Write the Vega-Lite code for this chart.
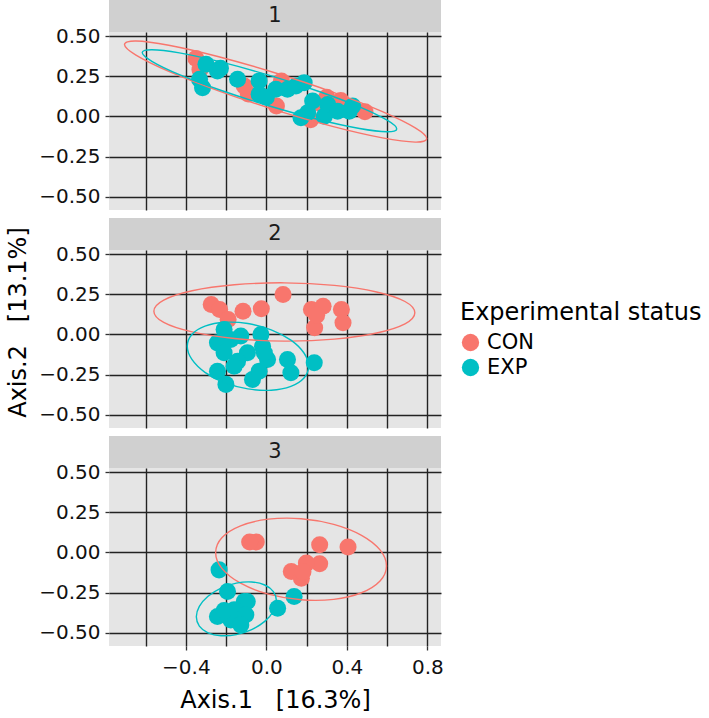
{
  "$schema": "https://vega.github.io/schema/vega-lite/v6.json",
  "background": "white",
  "autosize": {"type": "pad"},
  "padding": {"left": 6, "top": 0, "right": 0, "bottom": 0},
  "config": {
    "font": "DejaVu Sans",
    "view": {"stroke": null},
    "axis": {
      "labelFont": "DejaVu Sans", "labelFontSize": 20, "labelColor": "#111111",
      "titleFont": "DejaVu Sans", "titleFontSize": 24, "titleFontWeight": "normal", "titleColor": "#000000",
      "gridColor": "#222222", "gridWidth": 1.4, "gridOpacity": 1,
      "tickColor": "#333333", "tickSize": 4, "tickWidth": 1.3,
      "domain": false, "labelOverlap": false, "labelFlush": false, "labelPadding": 5
    },
    "legend": {
      "orient": "none", "legendX": 351, "legendY": 301,
      "titleFont": "DejaVu Sans", "titleFontSize": 24, "titleFontWeight": "normal", "titleColor": "#000000", "titleLimit": 400,
      "labelFont": "DejaVu Sans", "labelFontSize": 21, "labelColor": "#000000",
      "symbolType": "circle", "symbolSize": 300, "symbolStrokeWidth": 0,
      "titlePadding": 7, "rowPadding": 3, "labelOffset": 6, "padding": 0
    }
  },
  "datasets": {
    "strips": [{"panel": "1"}, {"panel": "2"}, {"panel": "3"}],
    "pts": [
      {"panel": "1", "status": "CON", "x": -0.35, "y": 0.36},
      {"panel": "1", "status": "CON", "x": -0.33, "y": 0.29},
      {"panel": "1", "status": "CON", "x": -0.11, "y": 0.19},
      {"panel": "1", "status": "CON", "x": -0.09, "y": 0.14},
      {"panel": "1", "status": "CON", "x": 0.075, "y": 0.22},
      {"panel": "1", "status": "CON", "x": 0.05, "y": 0.065},
      {"panel": "1", "status": "CON", "x": 0.30, "y": 0.12},
      {"panel": "1", "status": "CON", "x": 0.37, "y": 0.10},
      {"panel": "1", "status": "CON", "x": 0.49, "y": 0.03},
      {"panel": "1", "status": "CON", "x": 0.22, "y": -0.02},
      {"panel": "1", "status": "CON", "x": 0.27, "y": 0.08},
      {"panel": "1", "status": "EXP", "x": -0.30, "y": 0.325},
      {"panel": "1", "status": "EXP", "x": -0.332, "y": 0.231},
      {"panel": "1", "status": "EXP", "x": -0.317, "y": 0.179},
      {"panel": "1", "status": "EXP", "x": -0.243, "y": 0.283},
      {"panel": "1", "status": "EXP", "x": -0.228, "y": 0.30},
      {"panel": "1", "status": "EXP", "x": -0.143, "y": 0.231},
      {"panel": "1", "status": "EXP", "x": -0.036, "y": 0.221},
      {"panel": "1", "status": "EXP", "x": -0.036, "y": 0.138},
      {"panel": "1", "status": "EXP", "x": 0.0, "y": 0.12},
      {"panel": "1", "status": "EXP", "x": 0.047, "y": 0.169},
      {"panel": "1", "status": "EXP", "x": 0.105, "y": 0.169},
      {"panel": "1", "status": "EXP", "x": 0.147, "y": 0.19},
      {"panel": "1", "status": "EXP", "x": 0.188, "y": 0.21},
      {"panel": "1", "status": "EXP", "x": 0.205, "y": 0.023},
      {"panel": "1", "status": "EXP", "x": 0.23, "y": 0.096},
      {"panel": "1", "status": "EXP", "x": 0.288, "y": 0.002},
      {"panel": "1", "status": "EXP", "x": 0.305, "y": 0.075},
      {"panel": "1", "status": "EXP", "x": 0.354, "y": 0.033},
      {"panel": "1", "status": "EXP", "x": 0.412, "y": 0.033},
      {"panel": "1", "status": "EXP", "x": 0.429, "y": 0.065},
      {"panel": "1", "status": "EXP", "x": 0.172, "y": -0.008},
      {"panel": "2", "status": "CON", "x": -0.274, "y": 0.186},
      {"panel": "2", "status": "CON", "x": -0.232, "y": 0.155},
      {"panel": "2", "status": "CON", "x": -0.19, "y": 0.093},
      {"panel": "2", "status": "CON", "x": -0.116, "y": 0.145},
      {"panel": "2", "status": "CON", "x": -0.025, "y": 0.16},
      {"panel": "2", "status": "CON", "x": 0.083, "y": 0.248},
      {"panel": "2", "status": "CON", "x": 0.224, "y": 0.155},
      {"panel": "2", "status": "CON", "x": 0.282, "y": 0.176},
      {"panel": "2", "status": "CON", "x": 0.373, "y": 0.155},
      {"panel": "2", "status": "CON", "x": 0.381, "y": 0.073},
      {"panel": "2", "status": "CON", "x": 0.24, "y": 0.042},
      {"panel": "2", "status": "CON", "x": 0.25, "y": 0.12},
      {"panel": "2", "status": "EXP", "x": -0.21, "y": 0.031},
      {"panel": "2", "status": "EXP", "x": -0.243, "y": -0.052},
      {"panel": "2", "status": "EXP", "x": -0.177, "y": -0.031},
      {"panel": "2", "status": "EXP", "x": -0.127, "y": -0.01},
      {"panel": "2", "status": "EXP", "x": -0.027, "y": 0.0},
      {"panel": "2", "status": "EXP", "x": -0.019, "y": -0.073},
      {"panel": "2", "status": "EXP", "x": -0.21, "y": -0.114},
      {"panel": "2", "status": "EXP", "x": -0.094, "y": -0.114},
      {"panel": "2", "status": "EXP", "x": -0.143, "y": -0.166},
      {"panel": "2", "status": "EXP", "x": -0.243, "y": -0.228},
      {"panel": "2", "status": "EXP", "x": -0.201, "y": -0.31},
      {"panel": "2", "status": "EXP", "x": -0.069, "y": -0.28},
      {"panel": "2", "status": "EXP", "x": -0.036, "y": -0.228},
      {"panel": "2", "status": "EXP", "x": 0.006, "y": -0.155},
      {"panel": "2", "status": "EXP", "x": -0.01, "y": -0.114},
      {"panel": "2", "status": "EXP", "x": 0.105, "y": -0.155},
      {"panel": "2", "status": "EXP", "x": 0.122, "y": -0.238},
      {"panel": "2", "status": "EXP", "x": 0.238, "y": -0.176},
      {"panel": "2", "status": "EXP", "x": -0.16, "y": -0.197},
      {"panel": "3", "status": "CON", "x": -0.05, "y": 0.065},
      {"panel": "3", "status": "CON", "x": -0.083, "y": 0.065},
      {"panel": "3", "status": "CON", "x": 0.265, "y": 0.048},
      {"panel": "3", "status": "CON", "x": 0.406, "y": 0.034},
      {"panel": "3", "status": "CON", "x": 0.265, "y": -0.07},
      {"panel": "3", "status": "CON", "x": 0.199, "y": -0.066},
      {"panel": "3", "status": "CON", "x": 0.124, "y": -0.118},
      {"panel": "3", "status": "CON", "x": 0.174, "y": -0.16},
      {"panel": "3", "status": "CON", "x": 0.182, "y": -0.12},
      {"panel": "3", "status": "EXP", "x": -0.235, "y": -0.108},
      {"panel": "3", "status": "EXP", "x": -0.193, "y": -0.243},
      {"panel": "3", "status": "EXP", "x": -0.11, "y": -0.305},
      {"panel": "3", "status": "EXP", "x": -0.095, "y": -0.305},
      {"panel": "3", "status": "EXP", "x": -0.243, "y": -0.398},
      {"panel": "3", "status": "EXP", "x": -0.177, "y": -0.419},
      {"panel": "3", "status": "EXP", "x": -0.127, "y": -0.419},
      {"panel": "3", "status": "EXP", "x": -0.16, "y": -0.356},
      {"panel": "3", "status": "EXP", "x": -0.102, "y": -0.387},
      {"panel": "3", "status": "EXP", "x": -0.127, "y": -0.45},
      {"panel": "3", "status": "EXP", "x": 0.056, "y": -0.346},
      {"panel": "3", "status": "EXP", "x": 0.138, "y": -0.274},
      {"panel": "3", "status": "EXP", "x": -0.21, "y": -0.36}
    ],
    "ell": [
      {"panel": "1", "status": "CON", "i": 0, "x": 0.797, "y": -0.137},
      {"panel": "1", "status": "CON", "i": 1, "x": 0.740, "y": -0.071},
      {"panel": "1", "status": "CON", "i": 2, "x": 0.577, "y": 0.030},
      {"panel": "1", "status": "CON", "i": 3, "x": 0.333, "y": 0.150},
      {"panel": "1", "status": "CON", "i": 4, "x": 0.046, "y": 0.270},
      {"panel": "1", "status": "CON", "i": 5, "x": -0.241, "y": 0.373},
      {"panel": "1", "status": "CON", "i": 6, "x": -0.485, "y": 0.443},
      {"panel": "1", "status": "CON", "i": 7, "x": -0.648, "y": 0.469},
      {"panel": "1", "status": "CON", "i": 8, "x": -0.705, "y": 0.447},
      {"panel": "1", "status": "CON", "i": 9, "x": -0.648, "y": 0.381},
      {"panel": "1", "status": "CON", "i": 10, "x": -0.485, "y": 0.280},
      {"panel": "1", "status": "CON", "i": 11, "x": -0.241, "y": 0.161},
      {"panel": "1", "status": "CON", "i": 12, "x": 0.046, "y": 0.040},
      {"panel": "1", "status": "CON", "i": 13, "x": 0.333, "y": -0.063},
      {"panel": "1", "status": "CON", "i": 14, "x": 0.577, "y": -0.133},
      {"panel": "1", "status": "CON", "i": 15, "x": 0.740, "y": -0.159},
      {"panel": "1", "status": "EXP", "i": 0, "x": 0.648, "y": -0.077},
      {"panel": "1", "status": "EXP", "i": 1, "x": 0.600, "y": -0.023},
      {"panel": "1", "status": "EXP", "i": 2, "x": 0.463, "y": 0.060},
      {"panel": "1", "status": "EXP", "i": 3, "x": 0.258, "y": 0.157},
      {"panel": "1", "status": "EXP", "i": 4, "x": 0.016, "y": 0.255},
      {"panel": "1", "status": "EXP", "i": 5, "x": -0.227, "y": 0.339},
      {"panel": "1", "status": "EXP", "i": 6, "x": -0.432, "y": 0.395},
      {"panel": "1", "status": "EXP", "i": 7, "x": -0.569, "y": 0.415},
      {"panel": "1", "status": "EXP", "i": 8, "x": -0.617, "y": 0.397},
      {"panel": "1", "status": "EXP", "i": 9, "x": -0.569, "y": 0.343},
      {"panel": "1", "status": "EXP", "i": 10, "x": -0.432, "y": 0.260},
      {"panel": "1", "status": "EXP", "i": 11, "x": -0.227, "y": 0.163},
      {"panel": "1", "status": "EXP", "i": 12, "x": 0.016, "y": 0.065},
      {"panel": "1", "status": "EXP", "i": 13, "x": 0.258, "y": -0.019},
      {"panel": "1", "status": "EXP", "i": 14, "x": 0.463, "y": -0.075},
      {"panel": "1", "status": "EXP", "i": 15, "x": 0.600, "y": -0.095},
      {"panel": "2", "status": "CON", "i": 0, "x": 0.738, "y": 0.135},
      {"panel": "2", "status": "CON", "i": 1, "x": 0.689, "y": 0.205},
      {"panel": "2", "status": "CON", "i": 2, "x": 0.548, "y": 0.264},
      {"panel": "2", "status": "CON", "i": 3, "x": 0.338, "y": 0.305},
      {"panel": "2", "status": "CON", "i": 4, "x": 0.090, "y": 0.321},
      {"panel": "2", "status": "CON", "i": 5, "x": -0.159, "y": 0.309},
      {"panel": "2", "status": "CON", "i": 6, "x": -0.369, "y": 0.272},
      {"panel": "2", "status": "CON", "i": 7, "x": -0.510, "y": 0.214},
      {"panel": "2", "status": "CON", "i": 8, "x": -0.559, "y": 0.145},
      {"panel": "2", "status": "CON", "i": 9, "x": -0.510, "y": 0.075},
      {"panel": "2", "status": "CON", "i": 10, "x": -0.369, "y": 0.016},
      {"panel": "2", "status": "CON", "i": 11, "x": -0.159, "y": -0.025},
      {"panel": "2", "status": "CON", "i": 12, "x": 0.090, "y": -0.041},
      {"panel": "2", "status": "CON", "i": 13, "x": 0.338, "y": -0.029},
      {"panel": "2", "status": "CON", "i": 14, "x": 0.548, "y": 0.009},
      {"panel": "2", "status": "CON", "i": 15, "x": 0.689, "y": 0.066},
      {"panel": "2", "status": "EXP", "i": 0, "x": 0.210, "y": -0.197},
      {"panel": "2", "status": "EXP", "i": 1, "x": 0.187, "y": -0.115},
      {"panel": "2", "status": "EXP", "i": 2, "x": 0.122, "y": -0.035},
      {"panel": "2", "status": "EXP", "i": 3, "x": 0.024, "y": 0.029},
      {"panel": "2", "status": "EXP", "i": 4, "x": -0.092, "y": 0.068},
      {"panel": "2", "status": "EXP", "i": 5, "x": -0.207, "y": 0.076},
      {"panel": "2", "status": "EXP", "i": 6, "x": -0.305, "y": 0.052},
      {"panel": "2", "status": "EXP", "i": 7, "x": -0.370, "y": 0.000},
      {"panel": "2", "status": "EXP", "i": 8, "x": -0.393, "y": -0.073},
      {"panel": "2", "status": "EXP", "i": 9, "x": -0.370, "y": -0.155},
      {"panel": "2", "status": "EXP", "i": 10, "x": -0.305, "y": -0.235},
      {"panel": "2", "status": "EXP", "i": 11, "x": -0.207, "y": -0.299},
      {"panel": "2", "status": "EXP", "i": 12, "x": -0.092, "y": -0.338},
      {"panel": "2", "status": "EXP", "i": 13, "x": 0.024, "y": -0.346},
      {"panel": "2", "status": "EXP", "i": 14, "x": 0.122, "y": -0.322},
      {"panel": "2", "status": "EXP", "i": 15, "x": 0.187, "y": -0.270},
      {"panel": "3", "status": "CON", "i": 0, "x": 0.597, "y": -0.084},
      {"panel": "3", "status": "CON", "i": 1, "x": 0.565, "y": 0.016},
      {"panel": "3", "status": "CON", "i": 2, "x": 0.473, "y": 0.107},
      {"panel": "3", "status": "CON", "i": 3, "x": 0.335, "y": 0.175},
      {"panel": "3", "status": "CON", "i": 4, "x": 0.173, "y": 0.210},
      {"panel": "3", "status": "CON", "i": 5, "x": 0.010, "y": 0.207},
      {"panel": "3", "status": "CON", "i": 6, "x": -0.128, "y": 0.166},
      {"panel": "3", "status": "CON", "i": 7, "x": -0.220, "y": 0.093},
      {"panel": "3", "status": "CON", "i": 8, "x": -0.252, "y": -0.001},
      {"panel": "3", "status": "CON", "i": 9, "x": -0.220, "y": -0.100},
      {"panel": "3", "status": "CON", "i": 10, "x": -0.128, "y": -0.191},
      {"panel": "3", "status": "CON", "i": 11, "x": 0.010, "y": -0.259},
      {"panel": "3", "status": "CON", "i": 12, "x": 0.173, "y": -0.294},
      {"panel": "3", "status": "CON", "i": 13, "x": 0.335, "y": -0.291},
      {"panel": "3", "status": "CON", "i": 14, "x": 0.473, "y": -0.250},
      {"panel": "3", "status": "CON", "i": 15, "x": 0.565, "y": -0.177},
      {"panel": "3", "status": "EXP", "i": 0, "x": 0.050, "y": -0.300},
      {"panel": "3", "status": "EXP", "i": 1, "x": 0.035, "y": -0.243},
      {"panel": "3", "status": "EXP", "i": 2, "x": -0.008, "y": -0.202},
      {"panel": "3", "status": "EXP", "i": 3, "x": -0.073, "y": -0.183},
      {"panel": "3", "status": "EXP", "i": 4, "x": -0.149, "y": -0.190},
      {"panel": "3", "status": "EXP", "i": 5, "x": -0.225, "y": -0.221},
      {"panel": "3", "status": "EXP", "i": 6, "x": -0.290, "y": -0.272},
      {"panel": "3", "status": "EXP", "i": 7, "x": -0.333, "y": -0.335},
      {"panel": "3", "status": "EXP", "i": 8, "x": -0.348, "y": -0.400},
      {"panel": "3", "status": "EXP", "i": 9, "x": -0.333, "y": -0.457},
      {"panel": "3", "status": "EXP", "i": 10, "x": -0.290, "y": -0.499},
      {"panel": "3", "status": "EXP", "i": 11, "x": -0.225, "y": -0.517},
      {"panel": "3", "status": "EXP", "i": 12, "x": -0.149, "y": -0.510},
      {"panel": "3", "status": "EXP", "i": 13, "x": -0.073, "y": -0.479},
      {"panel": "3", "status": "EXP", "i": 14, "x": -0.008, "y": -0.428},
      {"panel": "3", "status": "EXP", "i": 15, "x": 0.035, "y": -0.365}
    ]
  },
  "spacing": 8,
  "vconcat": [
    {
      "bounds": "flush", "spacing": 0,
      "vconcat": [
        {
          "width": 332, "height": 32, "view": {"fill": "#D0D0D0", "stroke": null},
          "data": {"name": "strips"},
          "transform": [{"filter": "datum.panel == '1'"}],
          "mark": {"type": "text", "fontSize": 21, "color": "#1a1a1a", "font": "DejaVu Sans"},
          "encoding": {"text": {"field": "panel", "type": "nominal"}}
        },
        {
          "width": 332, "height": 178, "view": {"fill": "#E5E5E5", "stroke": null},
          "layer": [
            {
              "data": {"name": "pts"},
              "transform": [{"filter": "datum.panel == '1'"}],
              "mark": {"type": "circle", "size": 290, "opacity": 1},
              "encoding": {
                "x": {"field": "x", "type": "quantitative", "scale": {"domain": [-0.782, 0.868], "nice": false, "zero": false},
                      "axis": {"values": [-0.6, -0.4, -0.2, 0, 0.2, 0.4, 0.6, 0.8], "labels": false, "ticks": false, "title": null, "grid": true}},
                "y": {"field": "y", "type": "quantitative", "scale": {"domain": [-0.581, 0.525], "nice": false, "zero": false},
                      "axis": {"values": [-0.5, -0.375, -0.25, -0.125, 0, 0.125, 0.25, 0.375, 0.5], "title": null, "grid": true,
                               "labelExpr": "abs(datum.value*4 - round(datum.value*4)) > 0.01 ? '' : format(datum.value, '.2f')",
                               "tickOpacity": {"condition": {"test": "abs(datum.value*4 - round(datum.value*4)) > 0.01", "value": 0}, "value": 1}}},
                "color": {"field": "status", "type": "nominal", "scale": {"domain": ["CON", "EXP"], "range": ["#F8766D", "#00BFC4"]}, "legend": {"title": "Experimental status"}}
              }
            },
            {
              "data": {"name": "ell"},
              "transform": [{"filter": "datum.panel == '1'"}],
              "mark": {"type": "line", "interpolate": "cardinal-closed", "strokeWidth": 1.4},
              "encoding": {
                "x": {"field": "x", "type": "quantitative"},
                "y": {"field": "y", "type": "quantitative"},
                "stroke": {"field": "status", "type": "nominal", "scale": {"domain": ["CON", "EXP"], "range": ["#F8766D", "#00BFC4"]}, "legend": null},
                "detail": {"field": "status", "type": "nominal"},
                "order": {"field": "i", "type": "quantitative"}
              }
            }
          ]
        }
      ]
    },
    {
      "bounds": "flush", "spacing": 0,
      "vconcat": [
        {
          "width": 332, "height": 32, "view": {"fill": "#D0D0D0", "stroke": null},
          "data": {"name": "strips"},
          "transform": [{"filter": "datum.panel == '2'"}],
          "mark": {"type": "text", "fontSize": 21, "color": "#1a1a1a", "font": "DejaVu Sans"},
          "encoding": {"text": {"field": "panel", "type": "nominal"}}
        },
        {
          "width": 332, "height": 178, "view": {"fill": "#E5E5E5", "stroke": null},
          "layer": [
            {
              "data": {"name": "pts"},
              "transform": [{"filter": "datum.panel == '2'"}],
              "mark": {"type": "circle", "size": 290, "opacity": 1},
              "encoding": {
                "x": {"field": "x", "type": "quantitative", "scale": {"domain": [-0.782, 0.868], "nice": false, "zero": false},
                      "axis": {"values": [-0.6, -0.4, -0.2, 0, 0.2, 0.4, 0.6, 0.8], "labels": false, "ticks": false, "title": null, "grid": true}},
                "y": {"field": "y", "type": "quantitative", "scale": {"domain": [-0.581, 0.525], "nice": false, "zero": false},
                      "axis": {"values": [-0.5, -0.375, -0.25, -0.125, 0, 0.125, 0.25, 0.375, 0.5], "title": "Axis.2\u00a0\u00a0\u00a0[13.1%]", "titleY": 72, "titlePadding": 8, "grid": true,
                               "labelExpr": "abs(datum.value*4 - round(datum.value*4)) > 0.01 ? '' : format(datum.value, '.2f')",
                               "tickOpacity": {"condition": {"test": "abs(datum.value*4 - round(datum.value*4)) > 0.01", "value": 0}, "value": 1}}},
                "color": {"field": "status", "type": "nominal", "scale": {"domain": ["CON", "EXP"], "range": ["#F8766D", "#00BFC4"]}, "legend": {"title": "Experimental status"}}
              }
            },
            {
              "data": {"name": "ell"},
              "transform": [{"filter": "datum.panel == '2'"}],
              "mark": {"type": "line", "interpolate": "cardinal-closed", "strokeWidth": 1.4},
              "encoding": {
                "x": {"field": "x", "type": "quantitative"},
                "y": {"field": "y", "type": "quantitative"},
                "stroke": {"field": "status", "type": "nominal", "scale": {"domain": ["CON", "EXP"], "range": ["#F8766D", "#00BFC4"]}, "legend": null},
                "detail": {"field": "status", "type": "nominal"},
                "order": {"field": "i", "type": "quantitative"}
              }
            }
          ]
        }
      ]
    },
    {
      "bounds": "flush", "spacing": 0,
      "vconcat": [
        {
          "width": 332, "height": 32, "view": {"fill": "#D0D0D0", "stroke": null},
          "data": {"name": "strips"},
          "transform": [{"filter": "datum.panel == '3'"}],
          "mark": {"type": "text", "fontSize": 21, "color": "#1a1a1a", "font": "DejaVu Sans"},
          "encoding": {"text": {"field": "panel", "type": "nominal"}}
        },
        {
          "width": 332, "height": 178, "view": {"fill": "#E5E5E5", "stroke": null},
          "layer": [
            {
              "data": {"name": "pts"},
              "transform": [{"filter": "datum.panel == '3'"}],
              "mark": {"type": "circle", "size": 290, "opacity": 1},
              "encoding": {
                "x": {"field": "x", "type": "quantitative", "scale": {"domain": [-0.782, 0.868], "nice": false, "zero": false},
                      "axis": {"values": [-0.6, -0.4, -0.2, 0, 0.2, 0.4, 0.6, 0.8], "title": "Axis.1\u00a0\u00a0\u00a0[16.3%]", "titlePadding": 11, "labelPadding": 7, "grid": true,
                               "labelExpr": "abs(datum.value/0.4 - round(datum.value/0.4)) > 0.01 ? '' : format(datum.value, '.1f')",
                               "tickOpacity": {"condition": {"test": "abs(datum.value/0.4 - round(datum.value/0.4)) > 0.01", "value": 0}, "value": 1}}},
                "y": {"field": "y", "type": "quantitative", "scale": {"domain": [-0.581, 0.525], "nice": false, "zero": false},
                      "axis": {"values": [-0.5, -0.375, -0.25, -0.125, 0, 0.125, 0.25, 0.375, 0.5], "title": null, "grid": true,
                               "labelExpr": "abs(datum.value*4 - round(datum.value*4)) > 0.01 ? '' : format(datum.value, '.2f')",
                               "tickOpacity": {"condition": {"test": "abs(datum.value*4 - round(datum.value*4)) > 0.01", "value": 0}, "value": 1}}},
                "color": {"field": "status", "type": "nominal", "scale": {"domain": ["CON", "EXP"], "range": ["#F8766D", "#00BFC4"]}, "legend": {"title": "Experimental status"}}
              }
            },
            {
              "data": {"name": "ell"},
              "transform": [{"filter": "datum.panel == '3'"}],
              "mark": {"type": "line", "interpolate": "cardinal-closed", "strokeWidth": 1.4},
              "encoding": {
                "x": {"field": "x", "type": "quantitative"},
                "y": {"field": "y", "type": "quantitative"},
                "stroke": {"field": "status", "type": "nominal", "scale": {"domain": ["CON", "EXP"], "range": ["#F8766D", "#00BFC4"]}, "legend": null},
                "detail": {"field": "status", "type": "nominal"},
                "order": {"field": "i", "type": "quantitative"}
              }
            }
          ]
        }
      ]
    }
  ]
}
